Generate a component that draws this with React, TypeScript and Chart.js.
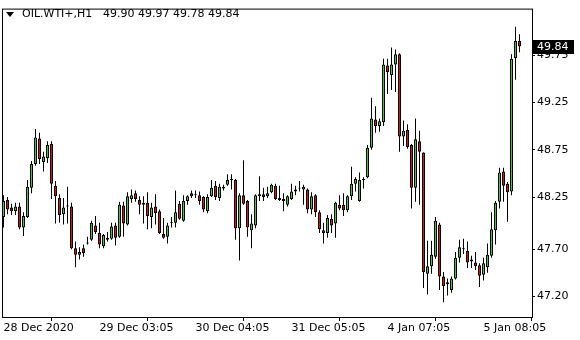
import { useEffect, useRef } from 'react';
import { Chart, registerables } from 'chart.js';

Chart.register(...registerables);

const SYMBOL = 'OIL.WTI+,H1';
const HEADER_VALUES = '49.90 49.97 49.78 49.84';

const opens = [
  48.04, 48.22, 48.14, 48.10, 48.15, 47.93, 48.04, 48.35, 48.60, 48.87,
  48.62, 48.66, 48.81, 48.37, 48.24, 48.07, 48.15, 48.15, 47.71, 47.64,
  47.71, 47.76, 47.80, 47.95, 47.87, 47.73, 47.82, 47.81, 47.95, 47.83,
  48.16, 47.96, 48.23, 48.29, 48.22, 48.19, 48.19, 48.04, 48.15, 48.10,
  47.86, 47.83, 47.98, 47.98, 48.18, 48.00, 48.21, 48.29, 48.28, 48.27,
  48.25, 48.10, 48.26, 48.37, 48.24, 48.34, 48.38, 48.43, 48.43, 47.92,
  48.27, 48.21, 47.90, 47.95, 48.28, 48.28, 48.26, 48.30, 48.37, 48.24,
  48.23, 48.17, 48.23, 48.31, 48.34, 48.33, 48.33, 48.12, 48.27, 48.09,
  47.90, 47.87, 48.02, 47.97, 48.17, 48.17, 48.11, 48.26, 48.39, 48.21,
  48.43, 48.46, 48.77, 49.07, 49.00, 49.04, 49.64, 49.54, 49.65, 49.76,
  48.89, 48.96, 48.80, 48.35, 48.84, 48.72, 47.44, 47.52, 47.62, 47.96,
  47.41, 47.33, 47.27, 47.39, 47.61, 47.70, 47.68, 47.57, 47.56, 47.53,
  47.43, 47.51, 47.63, 47.90, 48.20, 48.52, 48.39, 48.31, 49.72, 49.90,
];
const highs = [
  48.27, 48.25, 48.18, 48.19, 48.19, 48.09, 48.43, 48.63, 48.97, 48.93,
  48.73, 48.84, 48.84, 48.42, 48.28, 48.24, 48.36, 48.19, 47.78, 47.72,
  47.75, 47.83, 48.00, 48.05, 47.98, 47.86, 47.88, 47.98, 47.98, 48.20,
  48.20, 48.30, 48.33, 48.32, 48.26, 48.26, 48.30, 48.19, 48.28, 48.12,
  48.03, 47.98, 48.04, 48.32, 48.21, 48.27, 48.27, 48.32, 48.32, 48.31,
  48.26, 48.28, 48.43, 48.42, 48.39, 48.38, 48.49, 48.49, 48.44, 48.29,
  48.64, 48.22, 48.07, 48.28, 48.47, 48.35, 48.36, 48.39, 48.39, 48.37,
  48.29, 48.27, 48.39, 48.37, 48.42, 48.38, 48.34, 48.30, 48.28, 48.11,
  47.98, 48.06, 48.07, 48.20, 48.27, 48.29, 48.27, 48.57, 48.46, 48.51,
  48.46, 48.80, 49.30, 49.21, 49.08, 49.71, 49.71, 49.83, 49.81, 49.77,
  49.06, 49.02, 48.81, 49.08, 48.95, 48.72, 47.79, 47.79, 48.04, 47.98,
  47.46, 47.39, 47.41, 47.67, 47.80, 47.81, 47.78, 47.63, 47.67, 47.55,
  47.61, 47.76, 48.09, 48.21, 48.56, 48.56, 48.41, 49.76, 50.05, 49.97,
];
const lows = [
  47.93, 48.07, 48.06, 48.06, 47.91, 47.84, 48.03, 48.29, 48.58, 48.60,
  48.52, 48.61, 48.23, 47.97, 47.98, 47.96, 47.97, 47.70, 47.51, 47.59,
  47.62, 47.75, 47.79, 47.86, 47.71, 47.71, 47.78, 47.80, 47.74, 47.82,
  47.83, 47.95, 48.19, 48.20, 48.07, 47.97, 47.91, 47.92, 47.96, 47.86,
  47.81, 47.76, 47.93, 47.93, 48.01, 47.99, 48.17, 48.24, 48.24, 48.17,
  48.09, 48.08, 48.25, 48.22, 48.21, 48.32, 48.37, 48.33, 47.80, 47.58,
  48.17, 47.83, 47.71, 47.92, 48.21, 48.21, 48.24, 48.29, 48.22, 48.21,
  48.10, 48.15, 48.22, 48.27, 48.31, 48.17, 48.08, 48.07, 48.04, 47.87,
  47.76, 47.82, 47.87, 47.82, 48.11, 48.05, 48.09, 48.22, 48.31, 48.20,
  48.34, 48.45, 48.75, 48.93, 48.94, 49.00, 49.34, 49.38, 49.36, 48.73,
  48.79, 48.76, 48.13, 48.20, 48.17, 47.29, 47.22, 47.44, 47.60, 47.27,
  47.14, 47.21, 47.24, 47.38, 47.56, 47.65, 47.50, 47.50, 47.48, 47.30,
  47.37, 47.45, 47.61, 47.75, 48.13, 48.20, 47.99, 48.27, 49.49, 49.78,
];
const closes = [
  48.21, 48.12, 48.10, 48.15, 47.93, 48.05, 48.36, 48.60, 48.88, 48.65,
  48.68, 48.80, 48.39, 48.26, 48.06, 48.14, 48.16, 47.71, 47.64, 47.67,
  47.66, 47.77, 47.98, 47.88, 47.75, 47.85, 47.80, 47.94, 47.82, 48.17,
  47.97, 48.26, 48.27, 48.23, 48.17, 48.17, 48.05, 48.14, 48.08, 47.87,
  47.82, 47.95, 47.99, 48.09, 48.02, 48.21, 48.26, 48.26, 48.27, 48.21,
  48.12, 48.25, 48.35, 48.25, 48.36, 48.36, 48.43, 48.44, 47.92, 48.27,
  48.18, 47.93, 47.97, 48.27, 48.26, 48.25, 48.29, 48.38, 48.23, 48.22,
  48.21, 48.26, 48.31, 48.33, 48.35, 48.36, 48.12, 48.26, 48.09, 47.91,
  47.87, 48.03, 47.95, 48.19, 48.13, 48.11, 48.26, 48.39, 48.44, 48.43,
  48.44, 48.77, 49.08, 49.00, 49.05, 49.65, 49.57, 49.65, 49.76, 48.89,
  48.95, 48.78, 48.35, 48.86, 48.73, 47.46, 47.52, 47.64, 48.00, 47.41,
  47.31, 47.35, 47.39, 47.61, 47.72, 47.71, 47.56, 47.59, 47.52, 47.42,
  47.55, 47.64, 47.91, 48.19, 48.51, 48.37, 48.30, 49.71, 49.90, 49.84,
];

const xTickIndex = [0, 24, 48, 72, 96, 120];
const xTickLabels = ['28 Dec 2020', '29 Dec 03:05', '30 Dec 04:05', '31 Dec 05:05', '4 Jan 07:05', '5 Jan 08:05'];
const yTickValues = [47.2, 47.7, 48.25, 48.75, 49.25, 49.75];

const FONT_FAMILY = '"DejaVu Sans", Verdana, sans-serif';
const BULL = '#2ed62e';
const BEAR = '#e01010';

export default function App() {
  const ref = useRef<HTMLCanvasElement>(null);

  useEffect(() => {
    if (!ref.current) return;
    const bodies = opens.map((o, i) => ({ x: i, y: [o, closes[i]] }));
    const wicks = highs.map((h, i) => ({ x: i, y: [lows[i], h] }));
    const bodyColors = opens.map((o, i) => (closes[i] >= o ? BULL : BEAR));
    const last = closes[closes.length - 1];

    const overlay = {
      id: 'mtOverlay',
      beforeDatasetsDraw(chart: any) {
        const { ctx, chartArea } = chart;
        ctx.save();
        ctx.strokeStyle = '#000';
        ctx.lineWidth = 1;
        ctx.strokeRect(
          chartArea.left + 0.5,
          chartArea.top + 0.5,
          chartArea.right - chartArea.left,
          chartArea.bottom - chartArea.top
        );
        ctx.restore();
      },
      afterDraw(chart: any) {
        const { ctx, chartArea } = chart;
        const y = chart.scales.y;
        ctx.save();
        // header
        ctx.fillStyle = '#000';
        ctx.beginPath();
        ctx.moveTo(6, 12);
        ctx.lineTo(14, 12);
        ctx.lineTo(10, 17);
        ctx.closePath();
        ctx.fill();
        ctx.font = '11px ' + FONT_FAMILY;
        ctx.textBaseline = 'alphabetic';
        ctx.textAlign = 'left';
        ctx.fillText(SYMBOL, 22, 17);
        ctx.fillText(HEADER_VALUES, 103, 17);
        // last price box
        const py = Math.round(y.getPixelForValue(last));
        ctx.fillStyle = '#000';
        ctx.fillRect(chartArea.right, py - 7, 42, 14);
        ctx.fillStyle = '#fff';
        ctx.textBaseline = 'middle';
        ctx.fillText(last.toFixed(2), chartArea.right + 5, py);
        ctx.restore();
      },
    };

    const chart = new Chart(ref.current, {
      type: 'bar',
      data: {
        datasets: [
          {
            data: bodies as any,
            backgroundColor: bodyColors,
            borderColor: '#000',
            borderWidth: 1,
            borderSkipped: false,
            barThickness: 3,
            grouped: false,
            inflateAmount: 0,
            order: 0,
          } as any,
          {
            data: wicks as any,
            backgroundColor: '#000',
            borderWidth: 0,
            barThickness: 1,
            grouped: false,
            inflateAmount: 0,
            order: 1,
          } as any,
        ],
      },
      options: {
        responsive: false,
        maintainAspectRatio: false,
        animation: false,
        layout: { padding: { left: 2, top: 1, right: 0, bottom: 0 } },
        plugins: { legend: { display: false }, tooltip: { enabled: false } },
        scales: {
          x: {
            type: 'linear',
            position: 'bottom',
            min: -0.375,
            max: 132.125,
            offset: false,
            border: { display: false },
            grid: { drawOnChartArea: false, drawTicks: true, tickLength: 4, color: '#000' },
            ticks: {
              autoSkip: false,
              maxRotation: 0,
              minRotation: 0,
              align: 'start',
              padding: 1,
              color: '#000',
              font: { family: FONT_FAMILY, size: 11 },
              callback: (_v: any, i: number) => xTickLabels[i],
            },
            afterBuildTicks: (s: any) => {
              s.ticks = xTickIndex.map((v) => ({ value: v }));
            },
            afterFit: (s: any) => {
              s.height = 23;
            },
          },
          y: {
            type: 'linear',
            position: 'right',
            min: 46.9835,
            max: 50.241,
            border: { display: false },
            grid: { drawOnChartArea: false, drawTicks: true, tickLength: 3, color: '#000' },
            ticks: {
              padding: 2,
              color: '#000',
              font: { family: FONT_FAMILY, size: 11 },
              callback: (v: any) => Number(v).toFixed(2),
            },
            afterBuildTicks: (s: any) => {
              s.ticks = yTickValues.map((v) => ({ value: v }));
            },
            afterFit: (s: any) => {
              s.width = 48;
            },
          },
        },
      } as any,
      plugins: [overlay],
    });
    return () => chart.destroy();
  }, []);

  return (
    <div style={{ position: 'absolute', left: 0, top: 0, width: 580, height: 340, background: '#fff' }}>
      <canvas ref={ref} width={580} height={340} style={{ display: 'block', width: 580, height: 340 }} />
    </div>
  );
}
